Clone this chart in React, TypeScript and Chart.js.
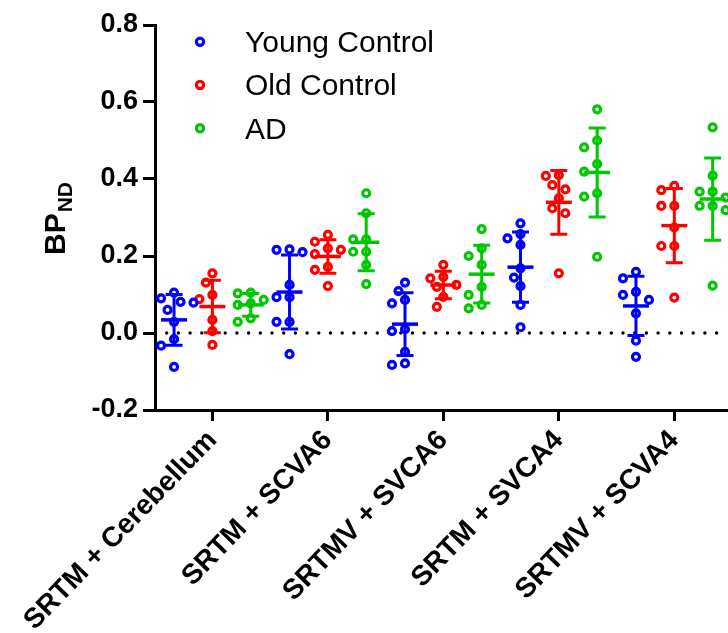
import React, { useEffect, useRef } from 'react';
import { Chart, registerables } from 'chart.js';

Chart.register(...registerables);

const categories = [
  'SRTM + Cerebellum',
  'SRTM + SCVA6',
  'SRTMV + SVCA6',
  'SRTM + SVCA4',
  'SRTMV + SCVA4',
];

const seriesNames = ['Young Control', 'Old Control', 'AD'];

const youngControl = [
  [0.105, 0.09, 0.081, 0.079, 0.06, 0.029, -0.016, -0.033, -0.088],
  [0.217, 0.216, 0.21, 0.125, 0.093, 0.093, 0.029, 0.029, -0.055],
  [0.131, 0.109, 0.086, 0.077, 0.01, 0.005, -0.049, -0.079, -0.083],
  [0.285, 0.257, 0.246, 0.229, 0.168, 0.144, 0.122, 0.073, 0.015],
  [0.159, 0.142, 0.107, 0.099, 0.086, 0.051, -0.02, -0.062],
];

const oldControl = [
  [0.155, 0.131, 0.099, 0.088, 0.034, 0.005, -0.031],
  [0.255, 0.237, 0.22, 0.216, 0.205, 0.172, 0.164, 0.122],
  [0.177, 0.146, 0.142, 0.125, 0.12, 0.094, 0.068],
  [0.41, 0.408, 0.384, 0.373, 0.35, 0.324, 0.311, 0.155],
  [0.382, 0.371, 0.33, 0.33, 0.274, 0.226, 0.226, 0.092],
];

const adValues = [
  [0.105, 0.103, 0.086, 0.077, 0.073, 0.038, 0.029],
  [0.363, 0.311, 0.243, 0.243, 0.211, 0.211, 0.177, 0.127],
  [0.27, 0.22, 0.2, 0.177, 0.12, 0.099, 0.073, 0.064],
  [0.581, 0.5, 0.482, 0.439, 0.419, 0.363, 0.354, 0.198],
  [0.534, 0.409, 0.367, 0.367, 0.352, 0.33, 0.33, 0.319, 0.123],
];

const yTickValues = [-0.2, 0, 0.2, 0.4, 0.6, 0.8];

const seriesValues = [youngControl, oldControl, adValues];
const seriesColors = ['#0000FF', '#FF0000', '#00C800'];
const FONT = "'Liberation Sans', Arial, Helvetica, sans-serif";
const SERIES_STEP = 0.332;
const X_MIN = 0.835;
const X_MAX = 5.797;
const PX_PER_X = 115.5;
const PX_PER_Y = 385;

function mean(a: number[]) {
  return a.reduce((s, v) => s + v, 0) / a.length;
}
function sd(a: number[]) {
  const m = mean(a);
  return Math.sqrt(a.reduce((s, v) => s + (v - m) * (v - m), 0) / (a.length - 1));
}

// deterministic beeswarm spreading of points (in x data units)
function swarmOffsets(values: number[]): number[] {
  const placed: { dx: number; dy: number }[] = [];
  const out: number[] = [];
  const cands = [0, -6.5, 6.5, -13, 13, -19.5, 19.5, -26, 26];
  for (const v of values) {
    const py = v * PX_PER_Y;
    let chosen = cands[cands.length - 1];
    for (const c of cands) {
      if (placed.every((p) => Math.hypot(p.dx - c, p.dy - py) >= 10.5)) {
        chosen = c;
        break;
      }
    }
    placed.push({ dx: chosen, dy: py });
    out.push(chosen / PX_PER_X);
  }
  return out;
}

function baseX(g: number, s: number) {
  return 1 + g + s * SERIES_STEP;
}

// stretch the plot area to the right edge of the canvas (as in the reference)
const fullWidthPlugin = {
  id: 'fullWidth',
  afterLayout(chart: any) {
    const r = chart.width;
    const xs = chart.scales.x;
    chart.chartArea.right = r;
    chart.chartArea.width = r - chart.chartArea.left;
    xs.right = r;
    xs.width = r - xs.left;
    xs.configure();
  },
};

const errorBarPlugin = {
  id: 'errorBars',
  afterDatasetsDraw(chart: any) {
    const { ctx, scales } = chart;
    const xs = scales.x;
    const ys = scales.y;
    ctx.save();
    seriesValues.forEach((groups, s) => {
      ctx.strokeStyle = seriesColors[s];
      groups.forEach((vals, g) => {
        const m = mean(vals);
        const d = sd(vals);
        const cx = xs.getPixelForValue(baseX(g, s));
        const yt = ys.getPixelForValue(m + d);
        const yb = ys.getPixelForValue(m - d);
        const ym = ys.getPixelForValue(m);
        ctx.lineWidth = 3;
        ctx.lineCap = 'butt';
        ctx.beginPath();
        ctx.moveTo(cx, yt);
        ctx.lineTo(cx, yb);
        ctx.moveTo(cx - 8.5, yt);
        ctx.lineTo(cx + 8.5, yt);
        ctx.moveTo(cx - 8.5, yb);
        ctx.lineTo(cx + 8.5, yb);
        ctx.stroke();
        ctx.lineWidth = 3.5;
        ctx.beginPath();
        ctx.moveTo(cx - 13, ym);
        ctx.lineTo(cx + 13, ym);
        ctx.stroke();
      });
    });
    ctx.restore();
  },
};

const zeroLinePlugin = {
  id: 'zeroLine',
  beforeDatasetsDraw(chart: any) {
    const { ctx, chartArea, scales } = chart;
    const y = scales.y.getPixelForValue(0);
    ctx.save();
    ctx.strokeStyle = '#000';
    ctx.lineWidth = 3.4;
    ctx.lineCap = 'round';
    ctx.setLineDash([0, 11.7]);
    ctx.beginPath();
    ctx.moveTo(chartArea.left + 11.7, y);
    ctx.lineTo(chartArea.right, y);
    ctx.stroke();
    ctx.restore();
  },
};

const legendAndTitlePlugin = {
  id: 'legendTitle',
  afterDraw(chart: any) {
    const { ctx } = chart;
    ctx.save();
    seriesNames.forEach((name, i) => {
      const y = 41.7 + i * 43.3;
      ctx.strokeStyle = seriesColors[i];
      ctx.lineWidth = 3.2;
      ctx.beginPath();
      ctx.arc(200, y, 3.6, 0, Math.PI * 2);
      ctx.stroke();
      ctx.fillStyle = '#000';
      ctx.font = `30px ${FONT}`;
      ctx.textAlign = 'left';
      ctx.textBaseline = 'alphabetic';
      ctx.fillText(name, 245, y + 10.3);
    });
    // y-axis title: BP with subscript ND
    ctx.translate(65, 255);
    ctx.rotate(-Math.PI / 2);
    ctx.fillStyle = '#000';
    ctx.textAlign = 'left';
    ctx.textBaseline = 'alphabetic';
    ctx.font = `bold 30px ${FONT}`;
    ctx.fillText('BP', 0, 0);
    const w = ctx.measureText('BP').width;
    ctx.font = `bold 21px ${FONT}`;
    ctx.fillText('ND', w + 1, 7);
    ctx.restore();
  },
};

export default function App() {
  const canvasRef = useRef<HTMLCanvasElement | null>(null);

  useEffect(() => {
    if (!canvasRef.current) return;
    const datasets = seriesValues.map((groups, s) => {
      const data: { x: number; y: number }[] = [];
      groups.forEach((vals, g) => {
        const offs = swarmOffsets(vals);
        vals.forEach((v, k) => data.push({ x: baseX(g, s) + offs[k], y: v }));
      });
      return {
        type: 'scatter' as const,
        label: seriesNames[s],
        data,
        borderColor: seriesColors[s],
        backgroundColor: 'rgba(255,255,255,0)',
        pointRadius: 3.5,
        pointBorderWidth: 3.2,
        pointHoverRadius: 3.5,
        showLine: false,
        clip: false,
      };
    });

    const chart = new Chart(canvasRef.current, {
      type: 'scatter',
      data: { datasets },
      plugins: [fullWidthPlugin, zeroLinePlugin, errorBarPlugin, legendAndTitlePlugin],
      options: {
        responsive: false,
        devicePixelRatio: 1,
        animation: false,
        layout: { padding: { top: 25, left: 0, right: 0, bottom: 0 } },
        plugins: {
          legend: { display: false },
          tooltip: { enabled: false },
          title: { display: false },
        },
        scales: {
          x: {
            type: 'linear',
            min: X_MIN,
            max: X_MAX,
            bounds: 'data',
            afterBuildTicks: (scale: any) => {
              scale.ticks = categories.map((_, i) => ({ value: baseX(i, 1) }));
            },
            afterFit: (scale: any) => {
              scale.height = 223;
              scale.paddingLeft = 0;
              scale.paddingRight = 0;
            },
            ticks: {
              autoSkip: false,
              minRotation: 46,
              maxRotation: 46,
              color: '#000',
              padding: 3,
              font: { family: FONT, size: 28, weight: 'bold' },
              callback: (_v: any, i: number) => categories[i],
            },
            grid: {
              drawOnChartArea: false,
              drawTicks: true,
              tickLength: 11,
              tickWidth: 3,
              tickColor: '#000',
            },
            border: { color: '#000', width: 3 },
          },
          y: {
            type: 'linear',
            min: -0.2,
            max: 0.8,
            bounds: 'data',
            afterBuildTicks: (scale: any) => {
              scale.ticks = yTickValues.map((v) => ({ value: v }));
            },
            afterFit: (scale: any) => {
              scale.width = 155;
            },
            ticks: {
              color: '#000',
              padding: 5,
              font: { family: FONT, size: 27, weight: 'bold' },
              callback: (v: any) => (Math.abs(Number(v)) < 1e-9 ? 0 : Number(v)).toFixed(1),
            },
            grid: {
              drawOnChartArea: false,
              drawTicks: true,
              tickLength: 12,
              tickWidth: 3,
              tickColor: '#000',
            },
            border: { color: '#000', width: 3 },
          },
        },
      } as any,
    });
    return () => chart.destroy();
  }, []);

  return (
    <div style={{ position: 'absolute', left: 0, top: 0, width: 728, height: 633, background: '#fff' }}>
      <canvas ref={canvasRef} width={728} height={633} style={{ display: 'block' }} />
    </div>
  );
}
